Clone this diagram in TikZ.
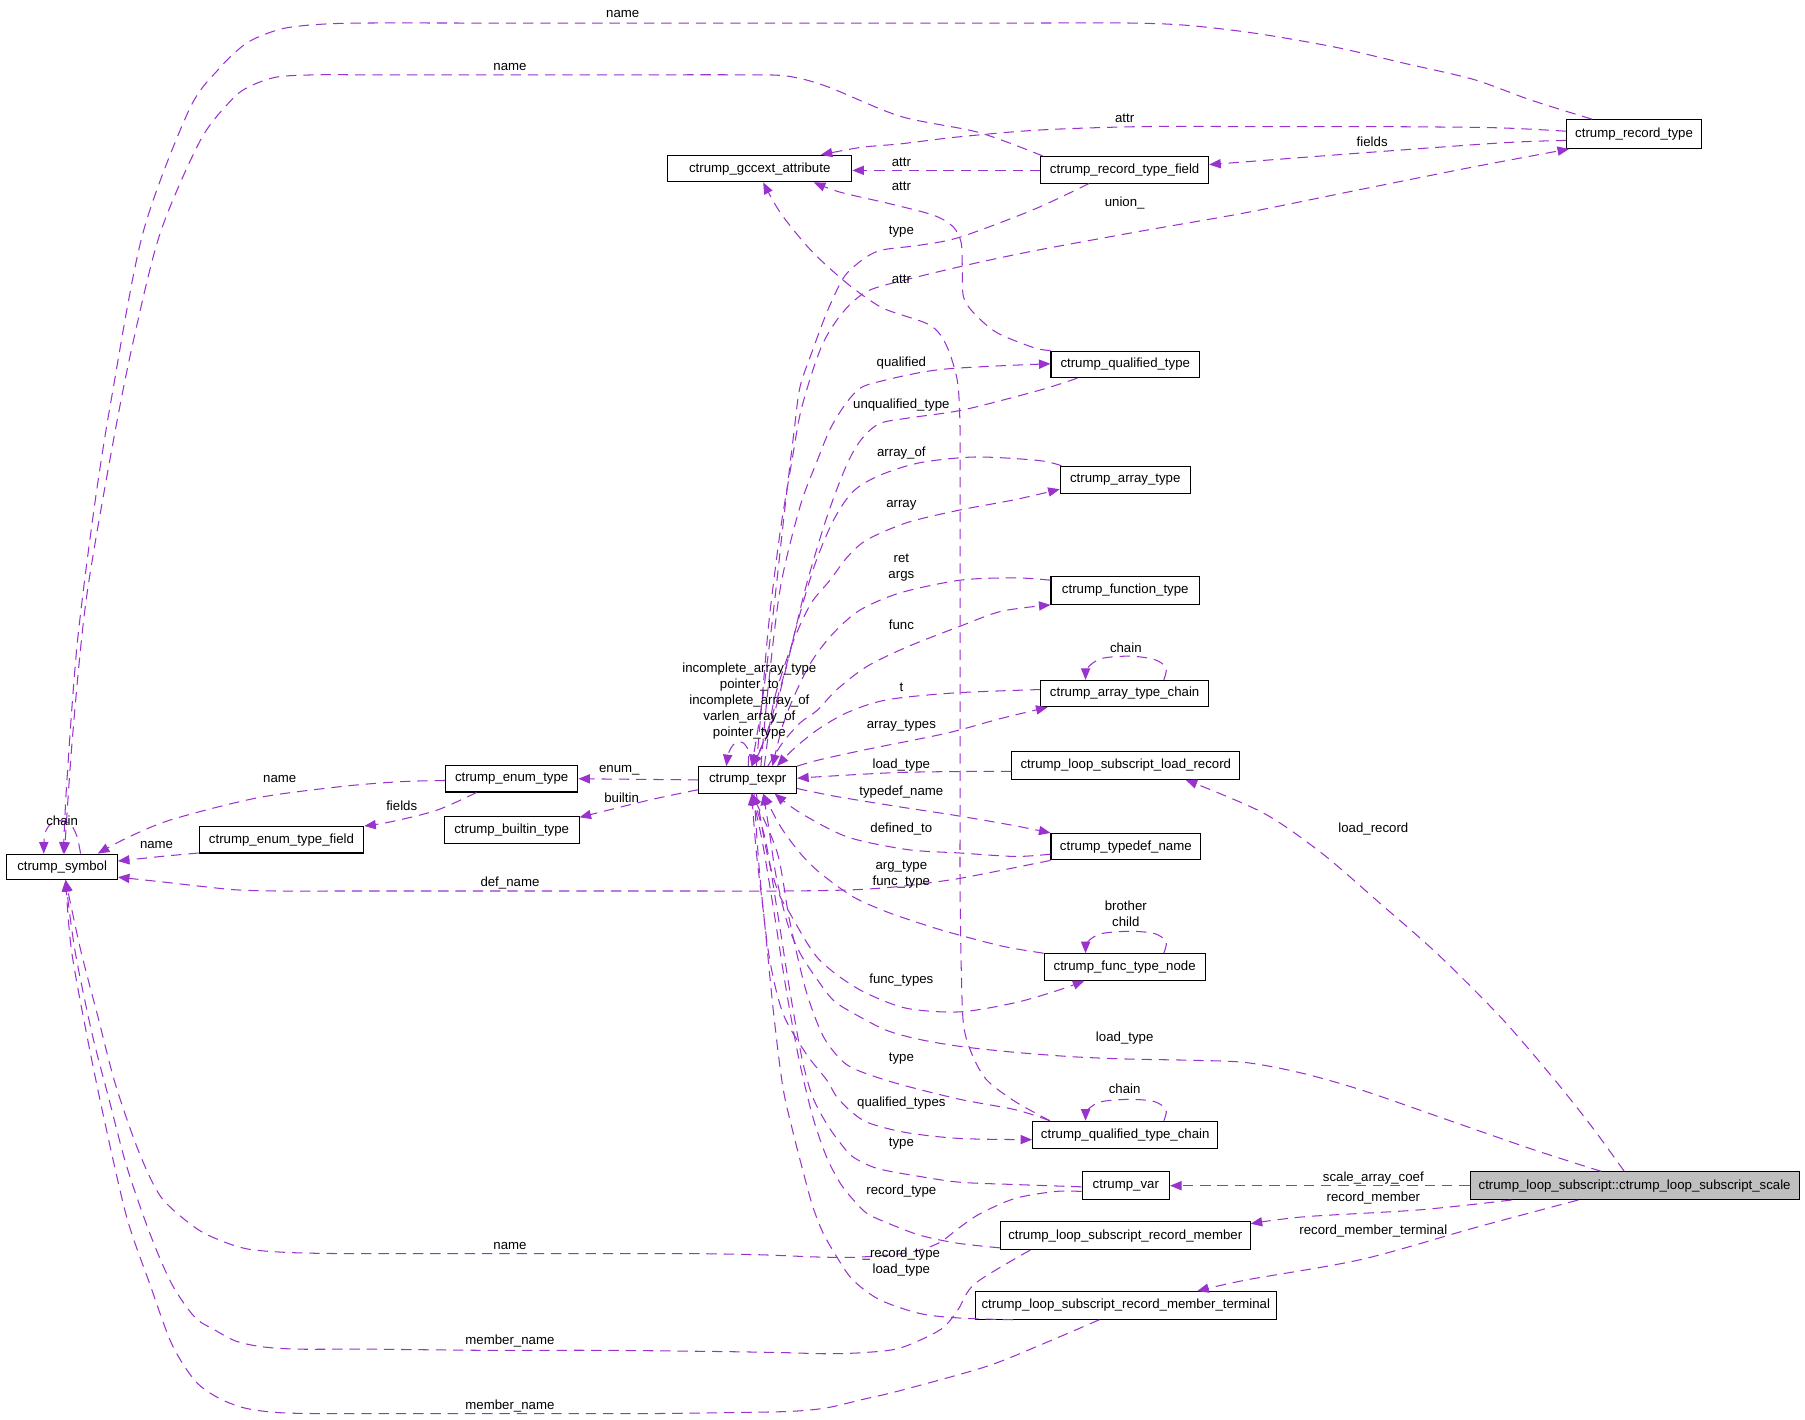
\documentclass[tikz,border=0pt]{standalone}
\usepackage{fontspec}
\setmainfont{Liberation Sans}
\usetikzlibrary{arrows.meta}
\definecolor{orchid}{HTML}{9A32CD}
\definecolor{selgray}{HTML}{BFBFBF}
\begin{document}
\begin{tikzpicture}[x=1pt,y=-1pt,
  cls/.style={draw=black,line width=0.9pt,fill=white,inner sep=0pt,minimum height=24pt,font=\fontsize{11.5}{14}\selectfont},
  sel/.style={cls,fill=selgray},
  lab/.style={inner sep=0pt,align=center,font=\fontsize{11.5}{14}\selectfont},
  uses/.style={draw=orchid,line width=0.9pt,dash pattern=on 9pt off 6pt,-{Triangle[length=10pt,width=8pt]}},
  sm/.style={smooth,tension=0.5}]
\fill[white] (0,0) rectangle (1568,1233);
% classes
\node[cls,minimum width=117pt,minimum height=25pt] (rec) at (1419.5,116.5) {ctrump\_record\_type};
\node[cls,minimum width=160pt,minimum height=23pt] (gcc) at (660,146.5) {ctrump\_gccext\_attribute};
\node[cls,minimum width=146pt,minimum height=23pt] (rtf) at (977,147.5) {ctrump\_record\_type\_field};
\node[cls,minimum width=129pt,minimum height=23pt] (qt) at (977.5,316.5) {ctrump\_qualified\_type};
\node[cls,minimum width=113pt] (at) at (977.5,417) {ctrump\_array\_type};
\node[cls,minimum width=129pt] (ft) at (977.5,513) {ctrump\_function\_type};
\node[cls,minimum width=146pt,minimum height=23pt] (atc) at (977,602.5) {ctrump\_array\_type\_chain};
\node[cls,minimum width=198pt] (llr) at (978,665) {ctrump\_loop\_subscript\_load\_record};
\node[cls,minimum width=85pt,minimum height=23pt] (tex) at (649.5,677.5) {ctrump\_texpr};
\node[cls,minimum width=115pt,minimum height=23pt] (et) at (444.5,676.5) {ctrump\_enum\_type};
\node[cls,minimum width=117pt] (bt) at (444.5,721) {ctrump\_builtin\_type};
\node[cls,minimum width=143pt,minimum height=23pt] (etf) at (244.5,729.5) {ctrump\_enum\_type\_field};
\node[cls,minimum width=96pt,minimum height=22pt] (sym) at (54,753) {ctrump\_symbol};
\node[cls,minimum width=130pt,minimum height=23pt] (tn) at (978,735.5) {ctrump\_typedef\_name};
\node[cls,minimum width=140pt,minimum height=23pt] (ftn) at (977,840) {ctrump\_func\_type\_node};
\node[cls,minimum width=161pt] (qtc) at (977.5,986) {ctrump\_qualified\_type\_chain};
\node[cls,minimum width=76pt] (var) at (978,1030) {ctrump\_var};
\node[cls,minimum width=217pt] (rm) at (977.5,1073.5) {ctrump\_loop\_subscript\_record\_member};
\node[cls,minimum width=262pt] (rmt) at (978,1134) {ctrump\_loop\_subscript\_record\_member\_terminal};
\node[sel,minimum width=286pt] (scale) at (1420,1030) {ctrump\_loop\_subscript::ctrump\_loop\_subscript\_scale};

% edges
\draw[uses] plot[sm] coordinates {(1383,0 |- rec.north) (1330,87) (1280,69) (1220,55) (1160,41) (1091,29) (1031,22) (981,20) (900,20) (800,20) (700,20) (600,20) (500,20) (400,20) (320,20) (280,21) (245,25) (215,37) (190,60) (164,96) (124,203) (97,345) (82,440) (67,560) (58,680) (55,0 |- sym.north)};
\draw[uses] plot[sm] coordinates {(906,0 |- rtf.north) (850,115) (782,101) (718,75) (683,66) (640,65) (560,65) (480,65) (400,65) (320,65) (275,65) (240,67) (215,76) (200,88) (174,122) (139,203) (115,300) (97,391) (75,520) (63,640) (56,0 |- sym.north)};
\draw[uses] plot[sm] coordinates {(rec.west |- 0,114) (1300,111) (1200,110) (1100,110) (991,110) (902,113) (832,119) (782,125) (748,128) (713,0 |- gcc.north)};
\draw[uses] plot[sm] coordinates {(rec.west |- 0,122) (1306,124) (1181,133) (rtf.east |- 0,143)};
\draw[uses] (rtf.west |- 0,148) -- (gcc.east |- 0,148);
\draw[uses] plot[sm] coordinates {(qt.north west) (898,302) (866,289) (846,272) (837,258) (836,235) (835,211) (828,197) (811,187) (773,177) (730,167) (707,0 |- gcc.south)};
\draw[uses] plot[sm] coordinates {(912,0 |- qtc.north) (882,957) (857,938) (844,915) (837,890) (835,840) (834,770) (834,700) (834,600) (834,500) (834,430) (834,373) (832,333) (825,307) (817,291) (805,281) (770,269) (753,259) (732,243) (704,217) (678,185) (663,0 |- gcc.south)};
\draw[uses] plot[sm] coordinates {(946,0 |- rtf.south) (898,182) (834,206) (799,213) (767,217) (753,223) (738,235) (730,246) (718,272) (706,304) (695,336) (690,373) (682,440) (672,530) (662,610) (653,0 |- tex.north)};
\draw[uses] plot[sm] coordinates {(657,0 |- tex.north) (661,620) (668,540) (678,460) (688,400) (695,360) (705,325) (715,298) (727,278) (741,262) (758,251) (799,240) (850,228) (903,217) (990,201) (1081,185) (1180,165) (1280,145) (1363,0 |- rec.south)};
\draw[uses] plot[sm] coordinates {(661,0 |- tex.north) (667,600) (678,510) (695,440) (710,400) (721,373) (733,353) (744,340) (758,333) (817,321) (qt.west |- 0,316)};
\draw[uses] plot[sm] coordinates {(936,0 |- qt.south) (903,339) (837,356) (790,363) (764,368) (748,382) (735,405) (718,450) (700,510) (683,580) (668,635) (653,0 |- tex.north)};
\draw[uses] plot[sm] coordinates {(922,0 |- at.north) (902,400) (847,397) (799,402) (764,413) (741,427) (724,452) (708,490) (693,540) (680,590) (665,640) (653,0 |- tex.north)};
\draw[uses] plot[sm] coordinates {(664,0 |- tex.north) (672,610) (688,560) (704,525) (721,504) (736,484) (753,469) (788,454) (834,443) (882,434) (at.west |- 0,425)};
\draw[uses] plot[sm] coordinates {(ft.west |- 0,504) (882,502) (834,504) (782,515) (747,530) (724,550) (706,573) (692,600) (680,630) (671,0 |- tex.north)};
\draw[uses] plot[sm] coordinates {(667,0 |- tex.north) (680,645) (695,628) (710,617) (727,599) (753,579) (788,562) (834,544) (870,531) (ft.south west)};
\draw[uses] plot[sm] coordinates {(atc.west |- 0,599) (828,602) (770,608) (736,619) (710,634) (689,651) (675,0 |- tex.north)};
\draw[uses] plot[sm] coordinates {(tex.north east) (712,660) (753,651) (822,637) (870,624) (910,0 |- atc.south)};
\draw[uses] plot[sm] coordinates {(llr.west |- 0,670) (782,671) (tex.east |- 0,676)};
\draw[uses] plot[sm] coordinates {(tex.east |- 0,685) (727,692) (782,701) (828,708) (880,717) (tn.north west)};
\draw[uses] plot[sm] coordinates {(tn.west |- 0,742) (882,744) (834,741) (788,738) (736,727) (695,706) (673,0 |- tex.south)};
\draw[uses] plot[sm] coordinates {(tn.south west) (860,758) (828,764) (782,770) (740,773) (680,774) (600,774) (500,774) (400,774) (300,774) (240,774) (205,773) (175,770) (140,766) (sym.east |- 0,762)};
\draw[uses] plot[sm] coordinates {(ftn.north west) (871,822) (825,810) (799,802) (770,792) (741,779) (712,758) (695,741) (678,718) (663,0 |- tex.south)};
\draw[uses] plot[sm] coordinates {(657,0 |- tex.south) (666,740) (676,775) (686,793) (701,819) (712,834) (730,849) (753,863) (788,876) (834,879) (882,871) (920,860) (942,0 |- ftn.south)};
\draw[uses] plot[sm] coordinates {(1391,0 |- scale.north) (1333,999) (1258,973) (1183,947) (1130,932) (1082,923) (1032,921) (980,920) (932,918) (880,914) (834,909) (799,903) (770,895) (741,880) (724,869) (710,851) (695,828) (684,802) (674,760) (668,720) (663,0 |- tex.south)};
\draw[uses] plot[sm] coordinates {(1411,0 |- scale.north) (1383,979) (1348,935) (1303,883) (1248,828) (1198,784) (1148,741) (1097,706) (1030,0 |- llr.south)};
\draw[uses] plot[sm] coordinates {(912,0 |- qtc.north) (882,964) (834,955) (782,942) (748,931) (732,922) (715,900) (700,860) (686,800) (675,740) (653,0 |- tex.south)};
\draw[uses] plot[sm] coordinates {(655,0 |- tex.south) (660,760) (668,830) (680,880) (700,915) (718,938) (727,953) (741,967) (756,976) (788,984) (834,989) (qtc.west |- 0,990)};
\draw[uses] plot[sm] coordinates {(var.west |- 0,1031) (882,1029) (834,1027) (799,1022) (762,1015) (741,1005) (730,993) (718,976) (706,953) (697,921) (686,860) (675,790) (665,730) (653,0 |- tex.south)};
\draw[uses] (scale.west) -- (var.east);
\draw[uses] plot[sm] coordinates {(1313,0 |- scale.south) (1233,1051) (1133,1057) (rm.east |- 0,1063)};
\draw[uses] plot[sm] coordinates {(1371,0 |- scale.south) (1283,1066) (1183,1094) (1082,1112) (1040,0 |- rmt.north)};
\draw[uses] plot[sm] coordinates {(rm.west |- 0,1084) (832,1080) (799,1073) (770,1062) (753,1054) (741,1042) (730,1028) (718,1005) (706,970) (694,920) (683,860) (672,790) (662,730) (653,0 |- tex.south)};
\draw[uses] plot[sm] coordinates {(880,0 |- rmt.south) (834,1145) (799,1141) (764,1129) (741,1112) (727,1092) (715,1071) (706,1048) (698,1019) (689,984) (680,944) (672,880) (664,800) (657,740) (653,0 |- tex.south)};
\draw[uses] plot[sm] coordinates {(var.west |- 0,1035) (917,1035) (882,1041) (852,1054) (834,1066) (815,1080) (790,1088) (747,1092) (712,1092) (660,1090) (600,1089) (500,1089) (400,1089) (300,1089) (250,1088) (215,1085) (190,1077) (169,1066) (140,1040) (120,999) (100,941) (85,883) (70,825) (57,0 |- sym.south)};
\draw[uses] plot[sm] coordinates {(895,0 |- rm.south) (847,1115) (832,1138) (817,1155) (782,1171) (750,1175) (718,1176) (680,1175) (620,1174) (520,1173) (420,1173) (320,1172) (260,1172) (228,1170) (205,1165) (186,1155) (169,1144) (149,1115) (130,1071) (110,1013) (95,956) (80,898) (65,825) (57,0 |- sym.south)};
\draw[uses] plot[sm] coordinates {(955,0 |- rmt.south) (907,1167) (857,1187) (782,1208) (748,1216) (718,1223) (688,1226) (640,1227) (560,1228) (460,1228) (360,1228) (280,1228) (240,1227) (212,1223) (189,1214) (169,1199) (149,1167) (130,1115) (110,1057) (90,970) (75,897) (62,825) (57,0 |- sym.south)};
\draw[uses] (tex.west) -- (et.east);
\draw[uses] plot[sm] coordinates {(tex.west |- 0,686) (564,695) (bt.east |- 0,710)};
\draw[uses] plot[sm] coordinates {(et.west |- 0,678) (349,679) (299,683) (224,693) (149,712) (110,728) (85,0 |- sym.north)};
\draw[uses] plot[sm] coordinates {(414,0 |- et.south) (379,704) (339,714) (etf.north east)};
\draw[uses] plot[sm] coordinates {(etf.west |- 0,741) (140,744) (sym.east |- 0,748)};
% self loops
\draw[uses] plot[sm] coordinates {(70,0 |- sym.north) (67,727) (62,717) (54,713) (45,715) (39,724) (38,0 |- sym.north)};
\draw[uses] plot[sm] coordinates {(1011,0 |- atc.north) (1013,580) (1003,573) (982,570) (957,572) (945,580) (943,0 |- atc.north)};
\draw[uses] plot[sm] coordinates {(1011,0 |- ftn.north) (1013,818) (1003,811) (982,809) (957,811) (945,818) (943,0 |- ftn.north)};
\draw[uses] plot[sm] coordinates {(1011,0 |- qtc.north) (1013,964) (1003,957) (982,955) (957,957) (945,964) (943,0 |- qtc.north)};
\draw[uses] plot[sm] coordinates {(650,0 |- tex.north) (650,652) (645,645) (638,646) (633,654) (631,0 |- tex.north)};

% labels
\node[lab] (l1) at (541,12) {name};
\node[lab] (l2) at (443,58) {name};
\node[lab] (l3) at (977,103) {attr};
\node[lab] (l4) at (1192,123) {fields};
\node[lab] (l5) at (783,141) {attr};
\node[lab] (l6) at (783,162) {attr};
\node[lab] (l7) at (977,176) {union\_};
\node[lab] (l8) at (783,201) {type};
\node[lab] (l9) at (783,243) {attr};
\node[lab] (l10) at (783,315) {qualified};
\node[lab] (l11) at (783,352) {unqualified\_type};
\node[lab] (l12) at (783,394) {array\_of};
\node[lab] (l13) at (783,439) {array};
\node[lab] (l14) at (783,493) {ret\\args};
\node[lab] (l15) at (783,543) {func};
\node[lab] (l16) at (978,563) {chain};
\node[lab] (l17) at (651,609) {incomplete\_array\_type\\pointer\_to\\incomplete\_array\_of\\varlen\_array\_of\\pointer\_type};
\node[lab] (l18) at (783,597) {t};
\node[lab] (l19) at (783,630) {array\_types};
\node[lab] (l20) at (783,665) {load\_type};
\node[lab] (l21) at (538,669) {enum\_};
\node[lab] (l22) at (243,677) {name};
\node[lab] (l23) at (783,688) {typedef\_name};
\node[lab] (l24) at (540,693) {builtin};
\node[lab] (l25) at (349,700) {fields};
\node[lab] (l26) at (54,713) {chain};
\node[lab] (l27) at (783,720) {defined\_to};
\node[lab] (l28) at (1193,720) {load\_record};
\node[lab] (l29) at (136,734) {name};
\node[lab] (l30) at (783,760) {arg\_type\\func\_type};
\node[lab] (l31) at (443,767) {def\_name};
\node[lab] (l32) at (978,794) {brother\\child};
\node[lab] (l33) at (783,851) {func\_types};
\node[lab] (l34) at (977,902) {load\_type};
\node[lab] (l35) at (783,920) {type};
\node[lab] (l36) at (977,946) {chain};
\node[lab] (l37) at (783,958) {qualified\_types};
\node[lab] (l38) at (783,993) {type};
\node[lab] (l39) at (1193,1023) {scale\_array\_coef};
\node[lab] (l40) at (1193,1041) {record\_member};
\node[lab] (l41) at (783,1035) {record\_type};
\node[lab] (l42) at (1193,1069) {record\_member\_terminal};
\node[lab] (l43) at (443,1082) {name};
\node[lab] (l44) at (783,1096) {\_record\_type\\load\_type};
\node[lab] (l45) at (443,1165) {member\_name};
\node[lab] (l46) at (443,1221) {member\_name};
\end{tikzpicture}
\end{document}
